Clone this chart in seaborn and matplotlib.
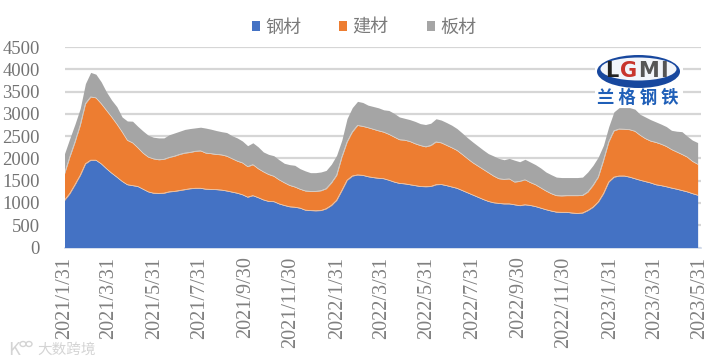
import numpy as np
import pandas as pd
import matplotlib.pyplot as plt
import seaborn as sns
from matplotlib.patches import Patch, Ellipse, Rectangle

# 周度库存, 从图上读数 (钢材 / 钢材+建材 / 合计)
start_date = "2021-01-31"
steel = [1060, 1210, 1410, 1620, 1880, 1960, 1960, 1880, 1770, 1670, 1580, 1485, 1410, 1390, 1370, 1310,
         1250, 1220, 1215, 1220, 1250, 1260, 1280, 1300, 1320, 1330, 1330, 1310, 1305, 1300, 1290, 1270,
         1245, 1220, 1185, 1130, 1165, 1120, 1070, 1035, 1030, 980, 945, 915, 905, 885, 840, 830,
         825, 830, 870, 945, 1060, 1280, 1510, 1605, 1630, 1620, 1590, 1570, 1555, 1545, 1510, 1470,
         1440, 1430, 1410, 1390, 1370, 1365, 1370, 1410, 1415, 1390, 1360, 1330, 1280, 1230, 1180, 1130,
         1080, 1035, 1005, 990, 980, 980, 960, 940, 960, 945, 920, 885, 850, 820, 795, 790,
         790, 775, 765, 775, 830, 905, 1020, 1210, 1470, 1580, 1605, 1605, 1580, 1545, 1510, 1480,
         1450, 1410, 1390, 1365, 1335, 1310, 1280, 1250, 1210, 1175]
steel_build = [1660, 2030, 2370, 2745, 3230, 3380, 3360, 3230, 3080, 2930, 2770, 2595, 2407, 2350, 2240, 2120,
               2030, 1990, 1970, 1980, 2020, 2050, 2090, 2120, 2135, 2160, 2170, 2120, 2107, 2090, 2080, 2050,
               1995, 1940, 1900, 1815, 1860, 1770, 1700, 1640, 1600, 1520, 1455, 1395, 1360, 1310, 1270, 1260,
               1260, 1275, 1320, 1450, 1620, 2030, 2370, 2595, 2740, 2720, 2690, 2655, 2620, 2590, 2540, 2480,
               2420, 2410, 2380, 2330, 2290, 2260, 2290, 2370, 2350, 2295, 2240, 2180, 2090, 1995, 1905, 1830,
               1755, 1680, 1605, 1545, 1530, 1540, 1470, 1485, 1520, 1460, 1410, 1340, 1270, 1210, 1165, 1160,
               1165, 1165, 1165, 1170, 1245, 1395, 1580, 1955, 2370, 2620, 2660, 2655, 2645, 2610, 2520, 2445,
               2390, 2360, 2320, 2270, 2200, 2145, 2090, 2030, 1935, 1870]
total = [2107, 2445, 2770, 3120, 3680, 3930, 3890, 3720, 3495, 3310, 3160, 2930, 2840, 2835, 2720, 2615,
         2520, 2475, 2460, 2460, 2530, 2570, 2610, 2650, 2670, 2685, 2700, 2680, 2655, 2625, 2600, 2580,
         2510, 2460, 2390, 2285, 2350, 2260, 2145, 2090, 2060, 1970, 1890, 1860, 1845, 1770, 1720, 1680,
         1680, 1695, 1730, 1870, 2070, 2410, 2895, 3140, 3280, 3255, 3195, 3165, 3135, 3090, 3075, 3010,
         2930, 2900, 2870, 2830, 2780, 2760, 2790, 2890, 2860, 2805, 2745, 2670, 2570, 2465, 2370, 2280,
         2190, 2107, 2055, 2000, 1970, 2000, 1960, 1925, 1980, 1920, 1860, 1785, 1695, 1635, 1580, 1570,
         1570, 1570, 1570, 1580, 1695, 1845, 2030, 2295, 2710, 3045, 3140, 3140, 3140, 3105, 2990, 2930,
         2870, 2820, 2770, 2715, 2630, 2610, 2600, 2500, 2410, 2355]
tick_dates = ["2021/1/31", "2021/3/31", "2021/5/31", "2021/7/31", "2021/9/30", "2021/11/30", "2022/1/31", "2022/3/31",
              "2022/5/31", "2022/7/31", "2022/9/30", "2022/11/30", "2023/1/31", "2023/3/31", "2023/5/31"]
series_names = ["钢材", "建材", "板材"]
series_colors = ["#4472c4", "#ed7d31", "#a5a5a5"]

W, H = 713, 363


def fx(px):
    return px / W


def fy(px):
    return 1 - px / H


def fig_ellipse(cx, cy, w, h, **kw):
    fig.add_artist(Ellipse((fx(cx), fy(cy)), w / W, h / H, transform=fig.transFigure, **kw))


sns.set_theme(style="white")
plt.rcParams['font.family'] = ['Noto Sans CJK SC', 'DejaVu Sans']

dates = pd.date_range(start_date, periods=len(steel), freq="7D")
ticks = pd.to_datetime(tick_dates, format="%Y/%m/%d")
df = pd.DataFrame({"date": dates, "steel": steel, "steel_build": steel_build, "total": total})

fig = plt.figure(figsize=(W / 100, H / 100), dpi=100, facecolor="white")
ax = fig.add_axes([fx(64.5), fy(247.5), fx(701 - 64.5), (247.5 - 47) / H])

ax.fill_between(df["date"], 0, df["steel"], color=series_colors[0], lw=0, zorder=3)
ax.fill_between(df["date"], df["steel"], df["steel_build"], color=series_colors[1], lw=0, zorder=3)
ax.fill_between(df["date"], df["steel_build"], df["total"], color=series_colors[2], lw=0, zorder=3)
# 色块之间的浅色细边
sns.lineplot(data=df, x="date", y="steel", color="#e6d8cc", lw=0.5, ax=ax, zorder=4)
sns.lineplot(data=df, x="date", y="steel_build", color="#e6d8cc", lw=0.5, ax=ax, zorder=4)

ax.set_xlim(ticks[0], ticks[-1] + pd.Timedelta(days=1.5))
ax.set_ylim(0, 4500)
ax.set_yticks(np.arange(0, 4501, 500))
ax.set_xticks(ticks)
ax.set_xticklabels(tick_dates, rotation=90, family="Liberation Serif", fontsize=14.6, color="#808080")
ax.set_xlabel("")
ax.set_ylabel("")
ax.tick_params(axis="y", length=0, pad=17.8, labelsize=13.4, labelcolor="#737373")
ax.tick_params(axis="x", length=3, width=1, color="#d9d9d9", pad=3.5)
for label in ax.get_yticklabels():
    label.set_family("Liberation Serif")
ax.grid(axis="y", color="#d6d6d6", lw=1.6, zorder=1)
ax.grid(axis="x", visible=False)
sns.despine(ax=ax, left=True, right=True, top=True)
ax.spines["bottom"].set_color("#cfd9ea")
ax.spines["bottom"].set_linewidth(1.2)

handles = [Patch(facecolor=c, edgecolor="none") for c in series_colors]
fig.legend(handles, series_names, ncol=3, frameon=False, loc="center", bbox_to_anchor=(fx(364), fy(27.5)),
           fontsize=13, labelcolor="#7a7a7a", handlelength=0.45, handleheight=0.45, handletextpad=0.3,
           columnspacing=2.1, borderpad=0)

# 水印 logo
fig.add_artist(Rectangle((fx(595), fy(107)), 88 / W, 54 / H, transform=fig.transFigure, facecolor="white",
                         edgecolor="none", zorder=5))
fig_ellipse(638.5, 71.5, 83, 33, facecolor="#17479e", edgecolor="none", zorder=6)
fig_ellipse(638.5, 69, 76, 23, facecolor="#f2f5fa", edgecolor="none", zorder=6)
logo_letters = ["L", "G", "M", "I"]
logo_x = [612, 629, 649, 664]
logo_colors = ["#222222", "#c8342c", "#555555", "#555555"]
for letter, lx, lc in zip(logo_letters, logo_x, logo_colors):
    fig.text(fx(lx), fy(71), letter, ha="center", va="center", fontsize=15, fontweight="bold", color=lc,
             family="DejaVu Sans", zorder=7)
fig.text(fx(638), fy(98), "兰 格 钢 铁", ha="center", va="center", fontsize=12.5, fontweight="bold", color="#1f5fb8",
         zorder=7)

# 左下角水印
fig.text(fx(37), fy(350), "大数跨境", ha="left", va="center", fontsize=10.5, color="#d4d4d4", zorder=7)
fig.text(fx(8), fy(350), "K", ha="left", va="center", fontsize=13, color="#d4d4d4", zorder=7)
fig_ellipse(23, 344, 6, 5, facecolor="none", edgecolor="#d4d4d4", lw=1, zorder=7)
fig_ellipse(29, 344, 6, 5, facecolor="none", edgecolor="#d4d4d4", lw=1, zorder=7)

fig.savefig("out.png", dpi=100)
